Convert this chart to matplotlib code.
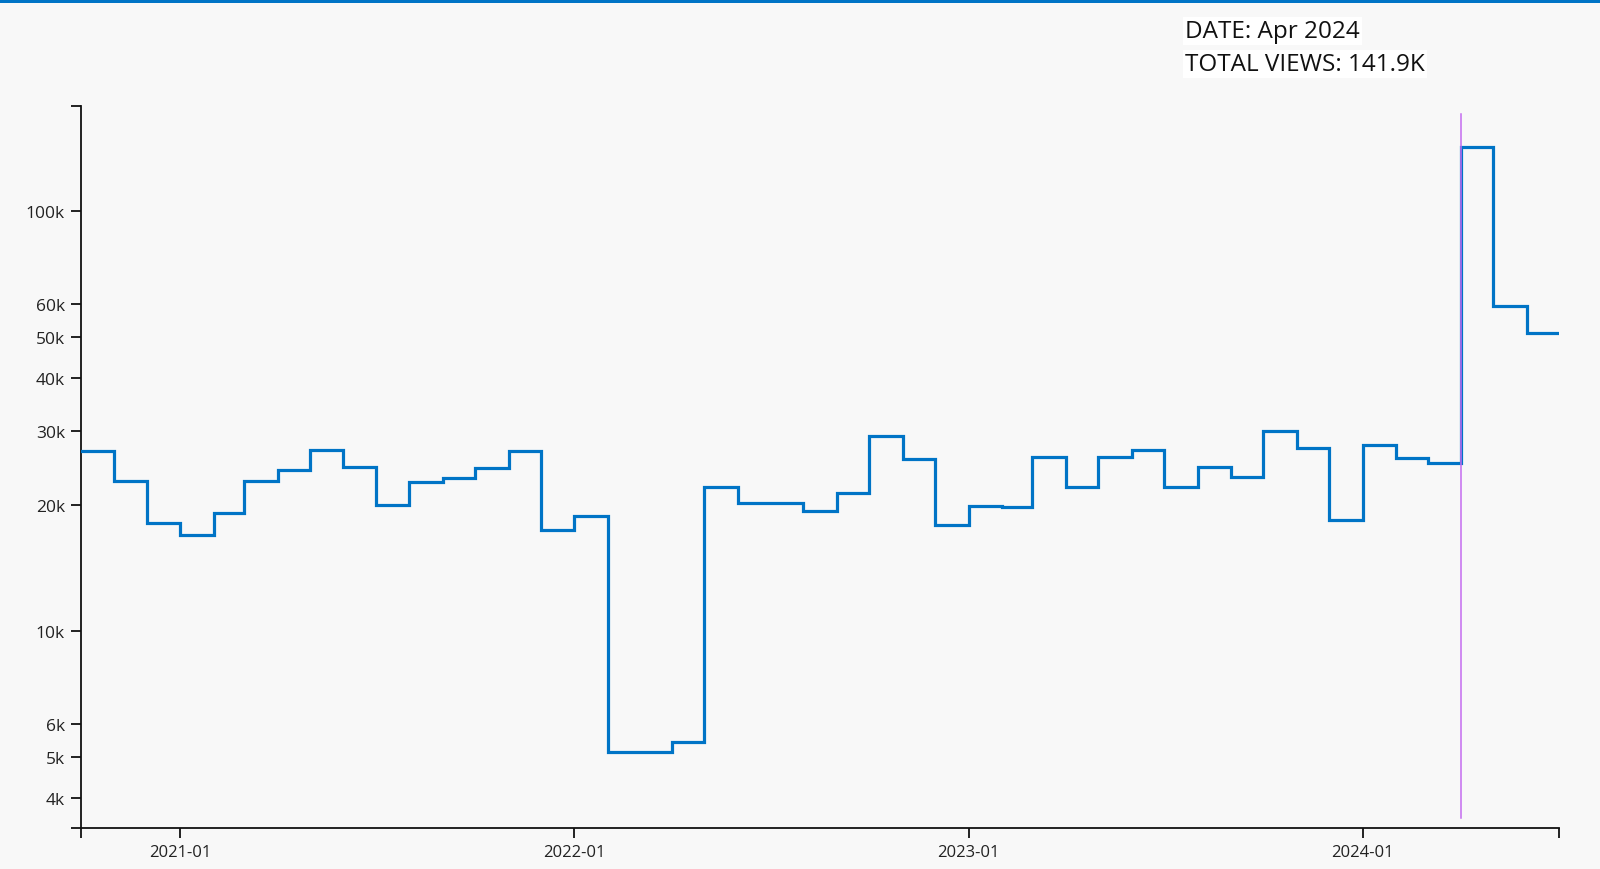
import matplotlib
matplotlib.use("Agg")
import matplotlib.pyplot as plt
import matplotlib.dates as mdates
import pandas as pd
import numpy as np

# ---- data ----
months = pd.date_range("2020-10-01", "2024-06-01", freq="MS")
views = [26.8, 22.7, 18.1, 16.9, 19.1, 22.7, 24.2, 27.0, 24.6, 20.0, 22.6, 23.1,
         24.4, 26.8, 17.4, 18.8, 5.15, 5.15, 5.44, 22.0, 20.2, 20.2, 19.3, 21.3,
         29.1, 25.6, 17.9, 19.8, 19.7, 26.0, 22.0, 26.0, 27.0, 22.0, 24.6, 23.3,
         29.9, 27.2, 18.4, 27.7, 25.8, 25.1, 141.9, 59.5, 51.3]
views = [v * 1000 for v in views]
y_ticks = [4000, 5000, 6000, 10000, 20000, 30000, 40000, 50000, 60000, 100000]
y_labels = ["4k", "5k", "6k", "10k", "20k", "30k", "40k", "50k", "60k", "100k"]
x_ticks = ["2021-01-01", "2022-01-01", "2023-01-01", "2024-01-01"]
x_labels = ["2021-01", "2022-01", "2023-01", "2024-01"]
highlight_month = "2024-04-01"
info_lines = ["DATE: Apr 2024", "TOTAL VIEWS: 141.9K"]

plt.rcParams['font.family'] = ['Open Sans', 'DejaVu Sans']

BG = "#f8f8f8"
LINE = "#0074c6"
fig = plt.figure(figsize=(16, 8.7), dpi=100, facecolor=BG)
ax = fig.add_axes([81/1600, 1-828.7/870, (1559.3-81)/1600, (828.7-107)/870])
ax.set_facecolor(BG)

# top bar
fig.add_artist(plt.Rectangle((0, 1-4/870), 1, 4/870, transform=fig.transFigure,
                             color="#0074c6", lw=0))

x_end = months[-1] + pd.DateOffset(months=1)
xs = list(months) + [x_end]
ys = list(views) + [views[-1]]
ax.step(xs, ys, where="post", color=LINE, lw=2.3, solid_joinstyle="miter", zorder=3)

ax.set_yscale("log")
ax.set_ylim(3400, 177800)
ax.set_xlim(months[0], x_end)

# highlight line
hx = pd.Timestamp(highlight_month)
ax.plot([hx, hx], [3400 * 10**((828.7-819)/420), 3400 * 10**((828.7-115)/420)],
        color="#c46cf0", lw=1.1, zorder=4)

ax.yaxis.set_major_locator(matplotlib.ticker.FixedLocator(y_ticks))
ax.yaxis.set_major_formatter(matplotlib.ticker.FixedFormatter(y_labels))
ax.yaxis.set_minor_locator(matplotlib.ticker.FixedLocator([3400, 177800]))
ax.yaxis.set_minor_formatter(matplotlib.ticker.NullFormatter())
xt = [pd.Timestamp(d) for d in x_ticks]
ax.set_xticks(xt)
ax.set_xticklabels(x_labels)
ax.xaxis.set_minor_locator(matplotlib.ticker.FixedLocator(
    [mdates.date2num(months[0]), mdates.date2num(x_end)]))

for s in ["top", "right"]:
    ax.spines[s].set_visible(False)
for s in ["left", "bottom"]:
    ax.spines[s].set_linewidth(1.3)
    ax.spines[s].set_color("#111111")
ax.tick_params(which="both", length=7.5, width=1.3, color="#111111")
ax.tick_params(axis="y", which="major", labelsize=12.5, labelcolor="#222222", pad=4)
ax.tick_params(axis="x", which="major", labelsize=12, labelcolor="#222222", pad=4)

for i, t in enumerate(info_lines):
    fig.text(1185/1600, 1 - (38 + 33*i)/870, t, fontsize=17.5, color="#111111",
             ha="left", va="baseline",
             bbox=dict(facecolor="white", edgecolor="none", pad=1.5))

fig.savefig("out.png", dpi=100, facecolor=BG)
